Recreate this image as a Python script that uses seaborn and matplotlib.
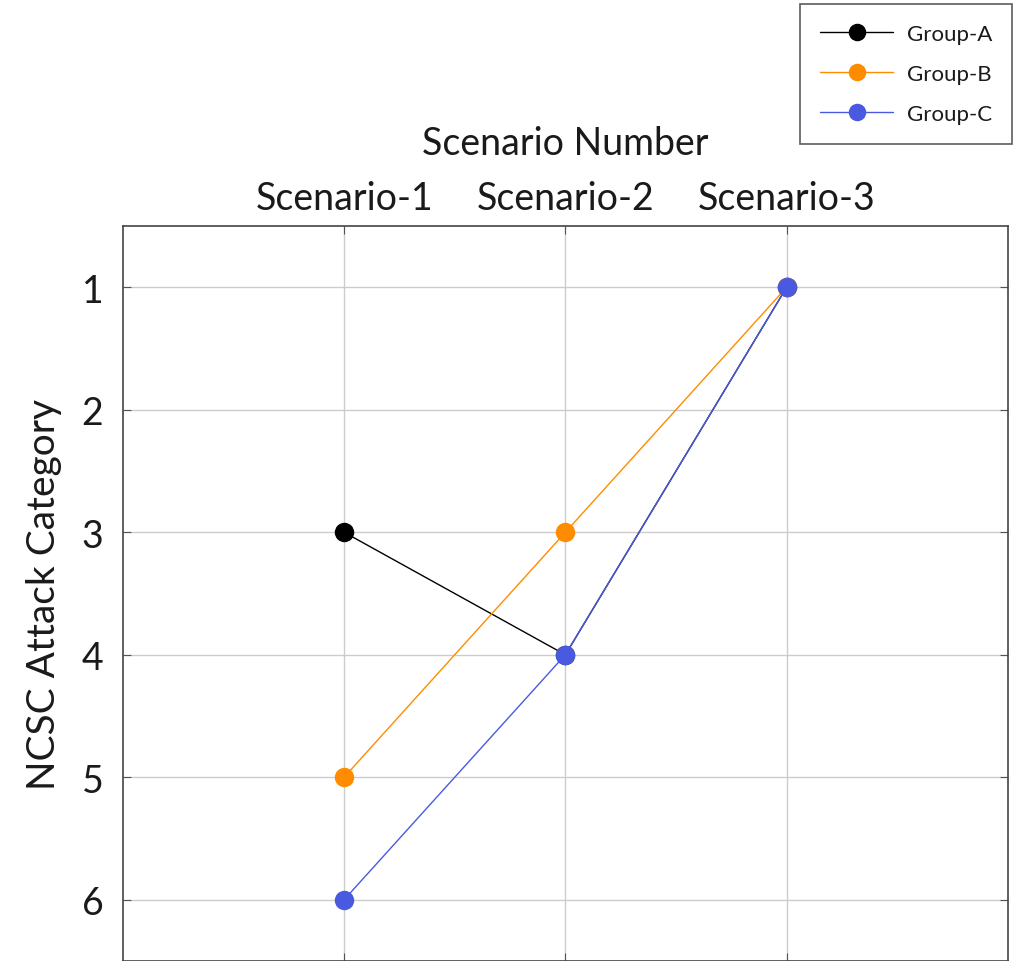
import matplotlib
matplotlib.use("Agg")
import matplotlib.pyplot as plt
import seaborn as sns
import pandas as pd

scenarios = [1, 2, 3]
scenario_labels = ["Scenario-1", "Scenario-2", "Scenario-3"]
group_a = [3, 4, 1]
group_b = [5, 3, 1]
group_c = [6, 4, 1]
groups = ["Group-A", "Group-B", "Group-C"]
colors = ["#000000", "#ff8c00", "#4a5ae0"]

rows = []
for g, vals in zip(groups, [group_a, group_b, group_c]):
    for s, v in zip(scenarios, vals):
        rows.append({"scenario": s, "category": v, "group": g})
df = pd.DataFrame(rows)

sns.set_style("white")
plt.rcParams["font.family"] = ["Lato", "DejaVu Sans"]
plt.rcParams["text.color"] = "#1a1a1a"
plt.rcParams["axes.labelcolor"] = "#1a1a1a"
plt.rcParams["xtick.labelcolor"] = "#1a1a1a"
plt.rcParams["ytick.labelcolor"] = "#1a1a1a"

fig = plt.figure(figsize=(10.15, 9.62), dpi=100)
ax = fig.add_axes([0.121, 0.0, 0.872, 0.764])

for g, c in zip(groups, colors):
    sub = df[df["group"] == g]
    sns.lineplot(data=sub, x="scenario", y="category", ax=ax, color=c,
                 linewidth=1.0, marker="o", markersize=14, markeredgewidth=0,
                 label=g)

ax.set_xlim(0, 4)
ax.set_ylim(6.5, 0.5)
ax.set_xticks(scenarios)
ax.set_xticklabels(scenario_labels)
ax.set_yticks([1, 2, 3, 4, 5, 6])
ax.xaxis.tick_top()
ax.xaxis.set_label_position("top")
ax.tick_params(axis="both", which="both", direction="in", length=6,
               color="#555555", labelsize=27, pad=7,
               top=True, bottom=True, left=True, right=True)
ax.tick_params(axis="y", pad=14)
ax.grid(True, color="#cccccc", linewidth=1)
for sp in ax.spines.values():
    sp.set_color("#444444")
    sp.set_linewidth(1.2)

ax.set_xlabel("Scenario Number", fontsize=27, labelpad=19)
ax.set_ylabel("NCSC Attack Category", fontsize=28, labelpad=14)

leg = ax.legend(loc="upper right", bbox_to_anchor=(1.0045, 1.302),
                borderaxespad=0,
                fontsize=16, frameon=True, fancybox=False, edgecolor="#333333",
                borderpad=0.9, labelspacing=0.9, handlelength=3.3,
                handletextpad=0.6, markerscale=0.9)
leg.get_frame().set_linewidth(1.2)

fig.savefig("out.png", dpi=100)
